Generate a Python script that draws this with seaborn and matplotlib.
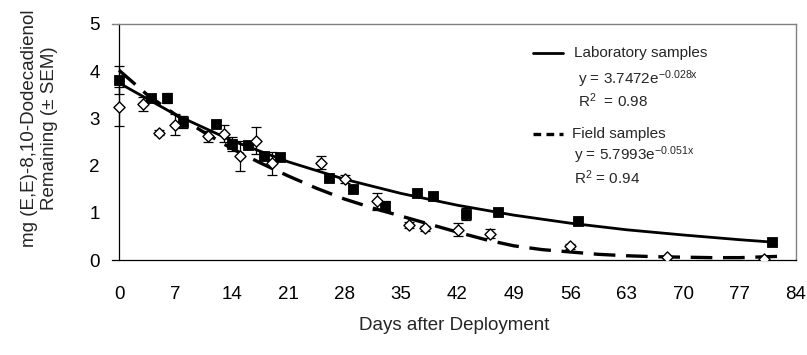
import matplotlib
matplotlib.use("Agg")
import matplotlib.pyplot as plt
import numpy as np
import pandas as pd
import seaborn as sns

# laboratory samples (filled squares)
lab_days = [0, 4, 6, 8, 12, 14, 16, 18, 20, 26, 29, 33, 37, 39, 43, 47, 57, 81]
lab_mg = [3.81, 3.43, 3.43, 2.93, 2.89, 2.46, 2.44, 2.21, 2.19, 1.73, 1.51, 1.15, 1.43, 1.36, 0.98, 1.02, 0.83, 0.38]
lab_sem = [0.30, 0.05, 0.10, 0.13, 0.05, 0.15, 0.05, 0.05, 0.05, 0.05, 0.05, 0.11, 0.05, 0.05, 0.13, 0.05, 0.05, 0.05]

# field samples (open diamonds)
field_days = [0, 3, 5, 7, 11, 13, 15, 17, 19, 25, 28, 32, 36, 38, 42, 46, 56, 68, 80]
field_mg = [3.25, 3.30, 2.70, 2.87, 2.62, 2.68, 2.21, 2.53, 2.05, 2.06, 1.72, 1.24, 0.74, 0.67, 0.64, 0.56, 0.29, 0.07, 0.03]
field_sem = [0.42, 0.15, 0.05, 0.22, 0.12, 0.18, 0.32, 0.28, 0.24, 0.14, 0.08, 0.19, 0.06, 0.05, 0.14, 0.09, 0.05, 0.02, 0.02]

# trend lines
lab_fit_x = [0, 7, 14, 21, 28, 35, 42, 49, 56, 63, 70, 77, 81]
lab_fit_y = [3.75, 3.08, 2.53, 2.08, 1.71, 1.41, 1.16, 0.95, 0.78, 0.64, 0.53, 0.43, 0.38]
field_fit_x = [0, 3.5, 7, 10.5, 14, 17.5, 21, 24.5, 28, 31.5, 35, 38.5, 42, 45.5, 49, 52.5, 56, 59.5, 63, 66.5, 70, 73.5, 77, 80.5, 82.5]
field_fit_y = [4.02, 3.50, 3.08, 2.71, 2.36, 2.06, 1.78, 1.52, 1.29, 1.10, 0.93, 0.76, 0.59, 0.43, 0.30, 0.22, 0.17, 0.12, 0.09, 0.07, 0.06, 0.05, 0.05, 0.07, 0.08]

x_ticks = list(range(0, 85, 7))
y_ticks = [0, 1, 2, 3, 4, 5]

sns.set_style("white")
plt.rcParams["font.family"] = ["Liberation Sans", "DejaVu Sans"]
plt.rcParams["mathtext.fontset"] = "custom"
plt.rcParams["mathtext.rm"] = "Liberation Sans"
plt.rcParams["mathtext.it"] = "Liberation Sans:italic"

lab = pd.DataFrame({"day": lab_days, "mg": lab_mg, "sem": lab_sem})
field = pd.DataFrame({"day": field_days, "mg": field_mg, "sem": field_sem})

fig = plt.figure(figsize=(8.07, 3.55), dpi=100)
ax = fig.add_axes([0.1388, 0.2676, 0.8476, 0.6648])

sns.lineplot(x=lab_fit_x, y=lab_fit_y, ax=ax, color="black", lw=2.0, estimator=None, zorder=2)
sns.lineplot(x=field_fit_x, y=field_fit_y, ax=ax, color="black", lw=2.4, estimator=None, zorder=2,
             linestyle=(0, (6.5, 3.2)))

ax.errorbar(lab["day"], lab["mg"], yerr=lab["sem"], fmt="none", ecolor="black", elinewidth=0.9,
            capsize=3.5, capthick=0.9, zorder=3)
ax.errorbar(field["day"], field["mg"], yerr=field["sem"], fmt="none", ecolor="black", elinewidth=0.9,
            capsize=3.5, capthick=0.9, zorder=3)

sns.scatterplot(data=lab, x="day", y="mg", ax=ax, marker="s", s=55, color="black",
                edgecolor="black", zorder=4)
sns.scatterplot(data=field, x="day", y="mg", ax=ax, marker="D", s=32, facecolor="white",
                edgecolor="black", linewidth=1.0, zorder=4)

ax.set_xlim(-0.87, 84)
ax.set_ylim(0, 5)
ax.set_xticks(x_ticks)
ax.set_yticks(y_ticks)
ax.tick_params(axis="both", labelsize=13.5, direction="out", length=5, width=0.9, colors="black")
ax.tick_params(axis="x", pad=14)
ax.tick_params(axis="y", pad=9)

for s in ["top", "right"]:
    ax.spines[s].set_color("#808080")
    ax.spines[s].set_linewidth(1.0)
ax.spines["left"].set_position(("data", 0))
ax.spines["left"].set_color("black")
ax.spines["bottom"].set_color("black")
ax.spines["left"].set_linewidth(0.9)
ax.spines["bottom"].set_linewidth(0.9)

ax.set_ylabel("")
ax.set_xlabel("Days after Deployment", fontsize=13.5, labelpad=10)
fig.text(0.049, 0.64, "mg (E,E)-8,10-Dodecadienol\nRemaining (\u00b1 SEM)", rotation=90,
         ha="center", va="center", fontsize=13.5, linespacing=1.3)

# legend / equations
ax.plot([51.4, 55.1], [4.39, 4.39], color="black", lw=2.0)
ax.text(56.45, 4.39, "Laboratory samples", fontsize=11, va="center")
ax.text(56.9, 3.83, "y = 3.7472e$^{\\mathrm{-0.028x}}$", fontsize=11, va="center")
ax.text(56.9, 3.37, "R$^{\\mathrm{2}}$  = 0.98", fontsize=11, va="center")
ax.plot([51.4, 55.1], [2.67, 2.67], color="black", lw=2.4, linestyle=(0, (2.3, 1.6)))
ax.text(56.2, 2.67, "Field samples", fontsize=11, va="center")
ax.text(56.45, 2.22, "y = 5.7993e$^{\\mathrm{-0.051x}}$", fontsize=11, va="center")
ax.text(56.45, 1.74, "R$^{\\mathrm{2}}$ = 0.94", fontsize=11, va="center")

fig.savefig("out.png", dpi=100)
